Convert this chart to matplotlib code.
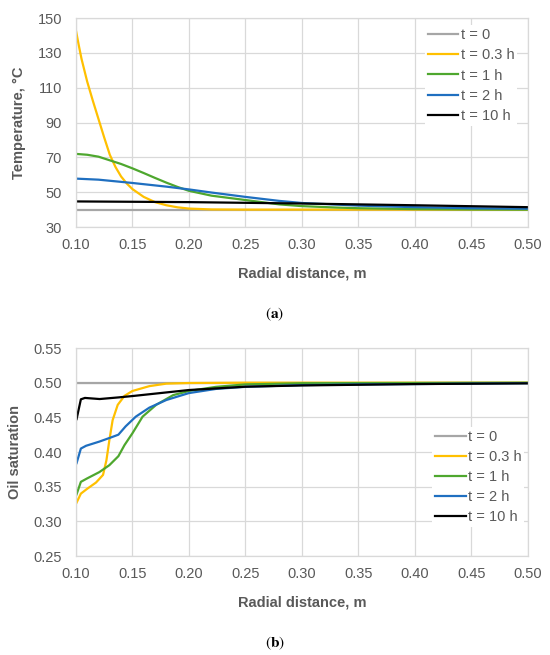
import matplotlib
matplotlib.use("Agg")
import matplotlib.pyplot as plt

plt.rcParams['font.family'] = ['Liberation Sans', 'DejaVu Sans']

# ---- (a) temperature profiles ----
labels = ['t = 0', 't = 0.3 h', 't = 1 h', 't = 2 h', 't = 10 h']
colors = ['#A6A6A6', '#FFC000', '#4EA72E', '#1F6FC0', '#000000']

x_t0 = [0.10, 0.50]
T_t0 = [40, 40]

x_t03 = [0.100, 0.1025, 0.105, 0.1075, 0.110, 0.115, 0.120, 0.125, 0.130, 0.135,
         0.140, 0.145, 0.150, 0.160, 0.170, 0.180, 0.190, 0.200, 0.220, 0.250,
         0.300, 0.500]
T_t03 = [143, 134.5, 126.5, 120, 113.5, 102.5, 92, 81.5, 71.5, 64.5,
         59, 55, 51.8, 47.3, 44.3, 42.5, 41.3, 40.6, 40.1, 40.0,
         40.0, 40.0]

x_t1 = [0.10, 0.11, 0.12, 0.13, 0.14, 0.15, 0.16, 0.17, 0.18, 0.19, 0.20,
        0.22, 0.25, 0.28, 0.30, 0.33, 0.35, 0.40, 0.45, 0.50]
T_t1 = [72, 71.5, 70.4, 68.3, 66.2, 63.7, 61, 58.2, 55.5, 53, 50.8,
        48, 45.5, 43, 42, 41.2, 40.8, 40.3, 40.1, 40.0]

x_t2 = [0.10, 0.12, 0.15, 0.18, 0.20, 0.22, 0.25, 0.28, 0.30, 0.35, 0.40, 0.45, 0.50]
T_t2 = [57.8, 57.2, 55.3, 53.2, 51.6, 49.8, 47.3, 45.0, 43.8, 42.3, 41.4, 40.8, 40.5]

x_t10 = [0.10, 0.20, 0.30, 0.40, 0.50]
T_t10 = [44.7, 44.3, 43.5, 42.5, 41.4]

# ---- (b) oil saturation profiles ----
xs_t0 = [0.10, 0.50]
S_t0 = [0.50, 0.50]

xs_t03 = [0.1006, 0.1044, 0.110, 0.1178, 0.124, 0.127, 0.1296, 0.1325, 0.137,
          0.143, 0.150, 0.165, 0.180, 0.200, 0.250, 0.500]
S_t03 = [0.327, 0.340, 0.347, 0.356, 0.367, 0.388, 0.417, 0.446, 0.468,
         0.481, 0.488, 0.495, 0.4986, 0.4995, 0.500, 0.500]

xs_t1 = [0.1006, 0.1044, 0.110, 0.1207, 0.1296, 0.1376, 0.143, 0.150, 0.159,
         0.171, 0.186, 0.200, 0.224, 0.250, 0.300, 0.500]
S_t1 = [0.339, 0.357, 0.362, 0.371, 0.381, 0.394, 0.410, 0.427, 0.451,
        0.468, 0.482, 0.488, 0.494, 0.4975, 0.4992, 0.500]

xs_t2 = [0.1006, 0.1044, 0.109, 0.1207, 0.131, 0.1376, 0.144, 0.153, 0.165,
         0.180, 0.200, 0.224, 0.250, 0.300, 0.350, 0.400, 0.500]
S_t2 = [0.384, 0.405, 0.409, 0.415, 0.421, 0.425, 0.437, 0.451, 0.464,
        0.475, 0.485, 0.491, 0.494, 0.4965, 0.4975, 0.498, 0.4993]

xs_t10 = [0.1006, 0.1044, 0.108, 0.121, 0.138, 0.150, 0.200, 0.250, 0.300, 0.400, 0.500]
S_t10 = [0.4475, 0.476, 0.478, 0.4764, 0.4788, 0.4807, 0.4894, 0.4942, 0.496, 0.498, 0.499]

x_ticks = [0.10, 0.15, 0.20, 0.25, 0.30, 0.35, 0.40, 0.45, 0.50]
T_ticks = [30, 50, 70, 90, 110, 130, 150]
S_ticks = [0.25, 0.30, 0.35, 0.40, 0.45, 0.50, 0.55]

grid_c = '#D9D9D9'
text_c = '#595959'

fig = plt.figure(figsize=(5.5, 6.55), dpi=100)
ax1 = fig.add_axes([0.138, 0.6534, 0.822, 0.319])
ax2 = fig.add_axes([0.138, 0.1511, 0.822, 0.3176])


def style(ax, yticks, yfmt, ylabel):
    ax.set_xlim(0.10, 0.50)
    ax.set_ylim(yticks[0], yticks[-1])
    ax.set_xticks(x_ticks)
    ax.set_xticklabels(['%.2f' % v for v in x_ticks])
    ax.set_yticks(yticks)
    ax.set_yticklabels([yfmt % v for v in yticks])
    ax.grid(True, color=grid_c, linewidth=0.9)
    ax.set_axisbelow(True)
    for s in ax.spines.values():
        s.set_color(grid_c)
        s.set_linewidth(0.9)
    ax.tick_params(axis='both', length=0, labelsize=10.5, labelcolor=text_c)
    ax.tick_params(axis='y', pad=10)
    ax.tick_params(axis='x', pad=8)
    ax.set_xlabel('Radial distance, m', fontsize=10.5, fontweight='bold',
                  color=text_c, labelpad=10)
    ax.set_ylabel(ylabel, fontsize=10.5, fontweight='bold', color=text_c,
                  labelpad=8)


series_a = [(x_t0, T_t0), (x_t03, T_t03), (x_t1, T_t1), (x_t2, T_t2), (x_t10, T_t10)]
for (xx, yy), lab, c in zip(series_a, labels, colors):
    ax1.plot(xx, yy, color=c, linewidth=1.6, label=lab)
style(ax1, T_ticks, '%d', 'Temperature, °C')

series_b = [(xs_t0, S_t0), (xs_t03, S_t03), (xs_t1, S_t1), (xs_t2, S_t2), (xs_t10, S_t10)]
for (xx, yy), lab, c in zip(series_b, labels, colors):
    ax2.plot(xx, yy, color=c, linewidth=1.6, label=lab)
style(ax2, S_ticks, '%.2f', 'Oil saturation')

for ax, anchor in [(ax1, (0.976, 0.965)), (ax2, (0.992, 0.62))]:
    leg = ax.legend(loc='upper right', bbox_to_anchor=anchor, frameon=True,
                    fancybox=False, framealpha=1, edgecolor='none',
                    facecolor='white', fontsize=10.5, handlelength=2.1,
                    handletextpad=0.15, labelspacing=0.42, borderpad=0.2,
                    borderaxespad=0)
    for t in leg.get_texts():
        t.set_color(text_c)

fig.text(0.5, 1 - 314 / 655, r'$(\mathbf{a})$', math_fontfamily='stix',
         fontsize=11, ha='center', va='center')
fig.text(0.5, 1 - 643 / 655, r'$(\mathbf{b})$', math_fontfamily='stix',
         fontsize=11, ha='center', va='center')

fig.savefig('out.png', dpi=100)
